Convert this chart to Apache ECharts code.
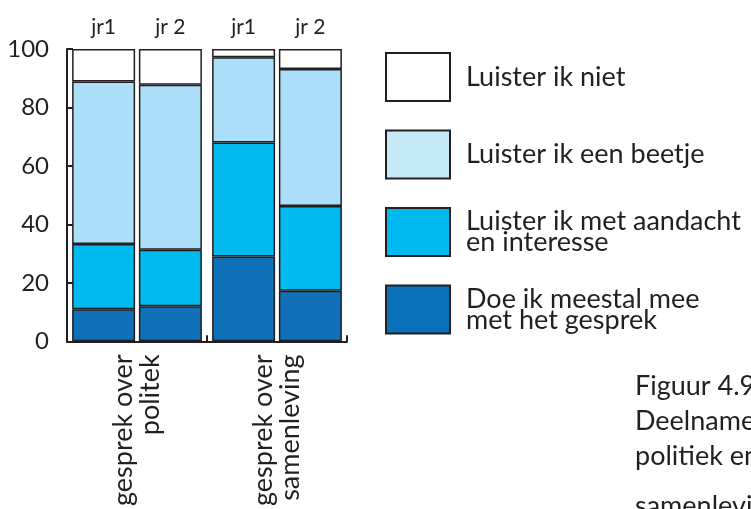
<!DOCTYPE html>
<html>
<head>
<meta charset="utf-8">
<script src="https://cdn.jsdelivr.net/npm/echarts@6/dist/echarts.min.js"></script>
<style>
  html, body { margin: 0; padding: 0; background: #fff; }
  #chart { width: 751px; height: 509px; }
</style>
</head>
<body>
<div id="chart"></div>
<script>
// ---- data ----
const categories = ['gesprek over\npolitek', 'gesprek over\nsamenleving'];
const years = ['jr1', 'jr 2'];
const layerNames = ['Doe ik meestal mee\nmet het gesprek', 'Luister ik met aandacht\nen interesse', 'Luister ik een beetje', 'Luister ik niet'];
const meestalJr1 = [11, 29];
const meestalJr2 = [12, 17.3];
const aandachtJr1 = [22.3, 39];
const aandachtJr2 = [19.3, 29];
const beetjeJr1 = [55.6, 29.2];
const beetjeJr2 = [56.5, 46.9];
const nietJr1 = [11.1, 2.8];
const nietJr2 = [12.2, 6.8];
const yTicks = [0, 20, 40, 60, 80, 100];
const captionLines = ['Figuur 4.9', 'Deelname aan', 'politiek en', 'samenleving'];

// ---- styles ----
const ink = '#231f20';
const barColors = ['#1071b8', '#00b9ef', '#abdff9', '#ffffff'];
const legendColors = ['#0a70b8', '#00b9ef', '#c6e9f8', '#ffffff'];
const font = 'Lato';
const captionTops = [373, 408, 443, 493];

const layersJr1 = [meestalJr1, aandachtJr1, beetjeJr1, nietJr1];
const layersJr2 = [meestalJr2, aandachtJr2, beetjeJr2, nietJr2];

const series = [];
layerNames.forEach((name, i) => {
  [layersJr1[i], layersJr2[i]].forEach((vals, j) => {
    const s = {
      type: 'bar',
      name: name,
      stack: 'stack' + j,
      data: vals,
      barWidth: 63,
      barGap: '6%',
      itemStyle: { color: barColors[i], borderColor: ink, borderWidth: 1.5 },
      emphasis: { disabled: true },
      animation: false
    };
    if (i === layerNames.length - 1) {
      s.label = {
        show: true,
        position: 'top',
        distance: 11,
        formatter: () => years[j],
        color: ink,
        fontFamily: font,
        fontSize: 21
      };
    }
    series.push(s);
  });
});

const chart = echarts.init(document.getElementById('chart'));
chart.setOption({
  animation: false,
  backgroundColor: '#fff',
  grid: { left: 67, right: 404, top: 49, bottom: 166, containLabel: false },
  xAxis: {
    type: 'category',
    data: categories,
    axisLine: { lineStyle: { color: ink, width: 2 } },
    axisTick: { show: true, inside: true, length: 6, lineStyle: { color: ink, width: 2 } },
    axisLabel: {
      rotate: 90, margin: 13, color: ink, fontFamily: font, fontSize: 27, lineHeight: 27
    }
  },
  yAxis: {
    type: 'value',
    min: yTicks[0],
    max: yTicks[yTicks.length - 1],
    interval: yTicks[1] - yTicks[0],
    splitLine: { show: false },
    axisLine: { show: true, lineStyle: { color: ink, width: 2 } },
    axisTick: { show: true, inside: true, length: 6, lineStyle: { color: ink, width: 2 } },
    axisLabel: { margin: 18, color: ink, fontFamily: font, fontSize: 24 }
  },
  legend: {
    orient: 'vertical',
    left: 380,
    top: 47,
    icon: 'rect',
    itemWidth: 64,
    itemHeight: 48,
    itemGap: 27.5,
    selectedMode: false,
    itemStyle: { borderColor: ink, borderWidth: 2 },
    textStyle: { color: ink, fontFamily: font, fontSize: 27, lineHeight: 21, padding: [0, 0, 0, 11] },
    data: layerNames.slice().reverse().map((n, k) => ({
      name: n,
      itemStyle: { color: legendColors[layerNames.length - 1 - k], borderColor: ink, borderWidth: 2 }
    }))
  },
  graphic: captionLines.map((t, k) => ({
    type: 'text',
    left: 635,
    top: captionTops[k],
    style: { text: t, fill: ink, font: '27px "' + font + '"' }
  })),
  series: series
});
</script>
</body>
</html>
